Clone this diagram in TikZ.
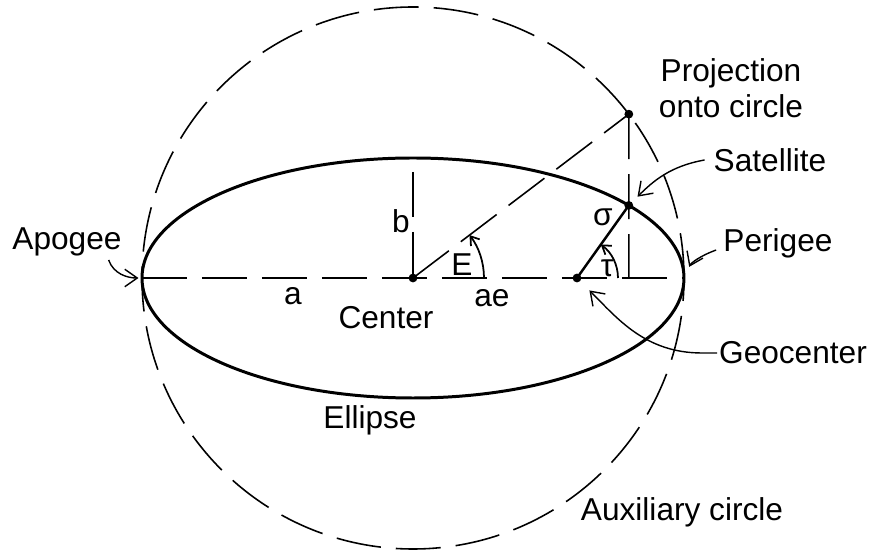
\documentclass[tikz,border=0pt]{standalone}
\usepackage{fontspec}
\setmainfont{Liberation Sans}
\usetikzlibrary{arrows.meta}

\begin{document}
\begin{tikzpicture}[
  lbl/.style={font=\fontsize{18}{20.5}\selectfont, inner sep=1pt},
  dsh/.style={line width=0.9pt, dash pattern=on 0.9cm off 0.3cm},
  orbit/.style={line width=1.7pt},
  dot/.style={circle, fill, inner sep=0pt, minimum size=5pt},
  ptr/.style={-{Straight Barb[length=2.5mm,width=3.5mm]}, line width=0.8pt},
  ang/.style={-{Straight Barb[length=1.6mm,width=2.2mm]}, line width=1pt}]
\useasboundingbox (-8.26,-5.44) rectangle (9.14,5.56);
% points of the orbit
\coordinate (ctr)  at (0,0);
\coordinate (geo)  at (3.28,0);
\coordinate (proj) at (37.2:5.42);
\coordinate (sat)  at (4.316,1.452);
\coordinate (foot) at (4.316,0);
\coordinate (apo)  at (-5.42,0);
\coordinate (peri) at (5.42,0);
\coordinate (btop) at (0,2.12);
% circle, ellipse, axes
\draw[dsh] (ctr) circle[radius=5.42];
\draw[orbit] (ctr) ellipse[x radius=5.42, y radius=2.4];
\draw[dsh] (apo) -- (peri);
\draw[dsh] (btop) -- (ctr);
\draw[dsh] (ctr) -- (proj);
\draw[dsh] (proj) -- (foot);
\draw[line width=1.4pt] (geo) -- (sat);
\draw[ang] (1.42,0) arc[start angle=0, end angle=37.2, radius=1.42];
\draw[ang] (4.1,0) arc[start angle=0, end angle=54.5, radius=0.82];
\node[dot] (ctrdot)  at (ctr)  {};
\node[dot] (geodot)  at (geo)  {};
\node[dot] (satdot)  at (sat)  {};
\node[dot] (projdot) at (proj) {};
% labels
\node[lbl] (btxt)   at (-0.24,1.14) {b};
\node[lbl] (atxt)   at (-2.4,-0.36) {a};
\node[lbl] (aetxt)  at (1.58,-0.4)  {ae};
\node[lbl] (etxt)   at (0.98,0.26)  {E};
\node[lbl] (sigtxt) at (3.8,1.22)   {σ};
\node[lbl] (tautxt) at (3.88,0.2)   {τ};
\node[lbl] (ctrtxt) at (-0.54,-0.8) {Center};
\node[lbl] (elltxt) at (-0.86,-2.84) {Ellipse};
\node[lbl] (auxtxt) at (5.38,-4.68) {Auxiliary circle};
\node[lbl, align=center] (projtxt) at (6.36,3.8) {Projection\\onto circle};
\node[lbl] (sattxt) at (7.14,2.36) {Satellite};
\node[lbl] (peritxt) at (7.3,0.7) {Perigee};
\node[lbl] (apotxt) at (-6.92,0.72) {Apogee};
\node[lbl] (geotxt) at (7.6,-1.5) {Geocenter};
% pointers
\draw[ptr, shorten >=7pt] ([xshift=-4pt]sattxt.west) to[out=190, in=45] (sat);
\draw[ptr, shorten >=7pt] ([xshift=-3pt,yshift=-4pt]peritxt.west) to[out=200, in=65] (peri);
\draw[ptr, shorten >=2pt] ([xshift=-0.3cm,yshift=-1pt]apotxt.south east) to[out=-70, in=180] (apo);
\draw[ptr, shorten >=10pt] (geotxt.west) -- ++(-0.3,0) to[out=180, in=-45] (geo);
\end{tikzpicture}
\end{document}
